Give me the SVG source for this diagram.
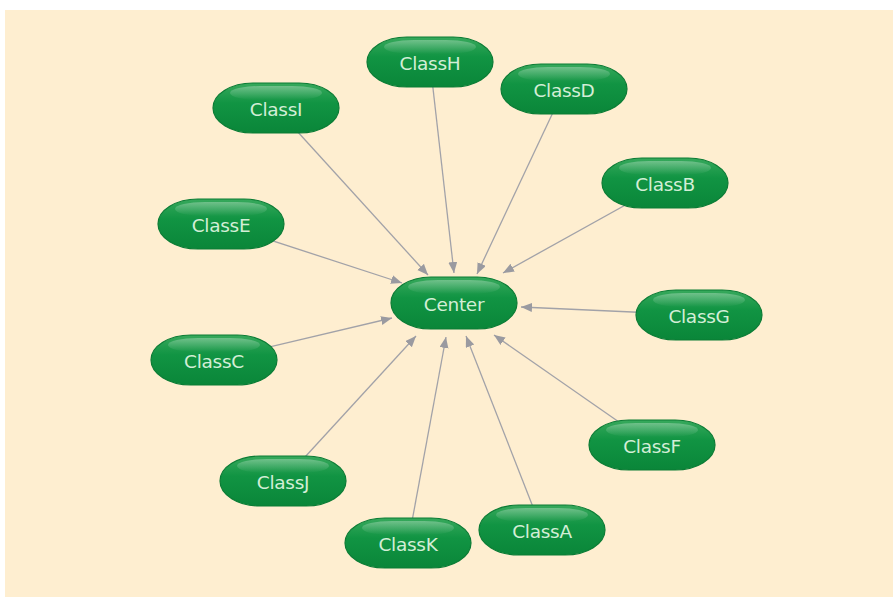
<svg xmlns="http://www.w3.org/2000/svg" width="893" height="597" viewBox="0 0 893 597">
<defs>
<linearGradient id="pill" x1="0" y1="0" x2="0" y2="1">
<stop offset="0" stop-color="#37a95c"/>
<stop offset="0.4" stop-color="#119443"/>
<stop offset="1" stop-color="#0a8639"/>
</linearGradient>
<linearGradient id="gloss" x1="0" y1="0" x2="0" y2="1">
<stop offset="0" stop-color="#ffffff" stop-opacity="0.3"/>
<stop offset="1" stop-color="#ffffff" stop-opacity="0"/>
</linearGradient>
<marker id="arr" markerUnits="userSpaceOnUse" markerWidth="12" markerHeight="10" refX="11" refY="4.5" orient="auto">
<path d="M0,0 L11,4.5 L0,9 z" fill="#9a9aa0"/>
</marker>
<g id="shape">
<rect x="-63" y="-25" width="126" height="50" rx="40" ry="25" fill="url(#pill)" stroke="#0b7c35" stroke-width="1.2"/>
<rect x="-46" y="-22" width="92" height="14" rx="30" ry="7" fill="url(#gloss)"/>
</g>
</defs>
<style>
.lbl{font-family:"DejaVu Sans","Liberation Sans",sans-serif;font-size:18.5px;fill:#d3eed6;text-anchor:middle;dominant-baseline:central;letter-spacing:-0.3px}
.edge{stroke:#a2a2a8;stroke-width:1.3;fill:none;marker-end:url(#arr)}
</style>
<rect x="0" y="0" width="893" height="597" fill="#ffffff"/>
<rect x="5" y="10" width="888" height="587" fill="#feeed0"/>
<g id="connectors">
<line class="edge" x1="276" y1="108" x2="428" y2="275"/>
<line class="edge" x1="430" y1="62" x2="454" y2="273"/>
<line class="edge" x1="564" y1="89" x2="477" y2="274"/>
<line class="edge" x1="665" y1="183" x2="503" y2="273"/>
<line class="edge" x1="221" y1="224" x2="402" y2="283"/>
<line class="edge" x1="214" y1="360" x2="392" y2="318"/>
<line class="edge" x1="699" y1="315" x2="521" y2="307"/>
<line class="edge" x1="652" y1="445" x2="494" y2="335"/>
<line class="edge" x1="542" y1="530" x2="466" y2="336"/>
<line class="edge" x1="408" y1="543" x2="446" y2="337"/>
<line class="edge" x1="283" y1="481" x2="416" y2="336"/>
</g>
<g id="Center" transform="translate(454,303)"><rect x="-63" y="-26" width="126" height="52" rx="40" ry="26" fill="url(#pill)" stroke="#0b7c35" stroke-width="1.2"/><rect x="-46" y="-23" width="92" height="14" rx="30" ry="7" fill="url(#gloss)"/><text class="lbl" x="0" y="1">Center</text></g>
<g id="ClassH" transform="translate(430,62)"><use href="#shape"/><text class="lbl" x="0" y="1">ClassH</text></g>
<g id="ClassD" transform="translate(564,89)"><use href="#shape"/><text class="lbl" x="0" y="1">ClassD</text></g>
<g id="ClassI" transform="translate(276,108)"><use href="#shape"/><text class="lbl" x="0" y="1">ClassI</text></g>
<g id="ClassB" transform="translate(665,183)"><use href="#shape"/><text class="lbl" x="0" y="1">ClassB</text></g>
<g id="ClassE" transform="translate(221,224)"><use href="#shape"/><text class="lbl" x="0" y="1">ClassE</text></g>
<g id="ClassG" transform="translate(699,315)"><use href="#shape"/><text class="lbl" x="0" y="1">ClassG</text></g>
<g id="ClassC" transform="translate(214,360)"><use href="#shape"/><text class="lbl" x="0" y="1">ClassC</text></g>
<g id="ClassF" transform="translate(652,445)"><use href="#shape"/><text class="lbl" x="0" y="1">ClassF</text></g>
<g id="ClassJ" transform="translate(283,481)"><use href="#shape"/><text class="lbl" x="0" y="1">ClassJ</text></g>
<g id="ClassK" transform="translate(408,543)"><use href="#shape"/><text class="lbl" x="0" y="1">ClassK</text></g>
<g id="ClassA" transform="translate(542,530)"><use href="#shape"/><text class="lbl" x="0" y="1">ClassA</text></g>
</svg>
